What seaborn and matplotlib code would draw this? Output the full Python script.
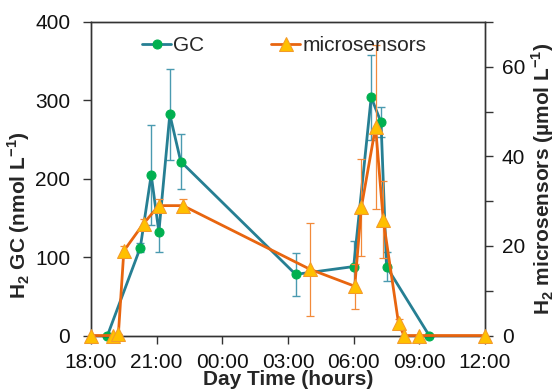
import matplotlib
matplotlib.use('Agg')
import matplotlib.pyplot as plt
import seaborn as sns
import numpy as np

# ---------------------------------------------------------------
# Data (hours counted from 18:00 of day 1; 24 = midnight)
# ---------------------------------------------------------------
gc_time = [18.75, 20.25, 20.75, 21.1, 21.6, 22.1, 27.35, 30.0, 30.8, 31.25, 31.5, 33.45]
gc_values = [0, 112, 205, 132, 282, 222, 78, 88, 304, 272, 88, 0]
gc_err = [0, 6, 64, 25, 58, 35, 27, 32, 54, 19, 18, 0]

ms_time = [18.0, 19.0, 19.25, 19.5, 20.4, 21.1, 22.2, 28.0, 30.05, 30.35, 31.0, 31.35, 32.05, 32.3, 33.0, 36.0]
ms_values = [0, 0, 0.3, 18.9, 25, 29, 29, 14.8, 11, 28.6, 46.6, 25.9, 2.7, 0, 0, 0]
ms_err = [0, 0, 0, 1, 1, 1.5, 1.5, 10.4, 5, 10.9, 18.3, 8.7, 1, 0, 0, 0]

x_ticks = [18, 21, 24, 27, 30, 33, 36]
x_ticklabels = ['18:00', '21:00', '00:00', '03:00', '06:00', '09:00', '12:00']

# ---------------------------------------------------------------
# Style
# ---------------------------------------------------------------
sns.set_style('ticks')
plt.rcParams['font.family'] = ['Liberation Sans', 'DejaVu Sans']
plt.rcParams['font.size'] = 15
plt.rcParams['mathtext.fontset'] = 'custom'
plt.rcParams['mathtext.rm'] = 'Liberation Sans'
plt.rcParams['mathtext.bf'] = 'Liberation Sans:bold'

TEAL = '#267F93'
TEAL_ERR = '#4A9AB0'
GREEN = '#00B050'
ORANGE = '#E8650F'
ORANGE_ERR = '#F28A3A'
YELLOW = '#FFC000'
SPINE = '#333333'

fig = plt.figure(figsize=(5.56, 3.9), dpi=100)
ax = fig.add_axes([0.1637, 0.1397, 0.7086, 0.8039])

# GC series (left axis)
sns.lineplot(x=gc_time, y=gc_values, ax=ax, sort=False, errorbar=None,
             color=TEAL, linewidth=2.0, marker='o', markersize=6.5,
             markerfacecolor=GREEN, markeredgecolor=GREEN, clip_on=False, zorder=3)
gc_line = ax.get_lines()[0]
ax.errorbar(gc_time, gc_values, yerr=gc_err, fmt='none', ecolor=TEAL_ERR,
            elinewidth=1.0, capsize=3, capthick=1.0, zorder=2)

ax.set_xlim(18, 36)
ax.set_ylim(0, 400)
ax.set_xticks(x_ticks)
ax.set_xticklabels(x_ticklabels)
ax.set_yticks([0, 100, 200, 300, 400])
ax.set_xlabel('Day Time (hours)', fontweight='bold')
ax.set_ylabel(r'H$_\mathbf{2}$ GC (nmol L$^\mathbf{-1}$)', fontweight='bold')
ax.xaxis.set_label_coords(0.5, -0.11)
ax.yaxis.set_label_coords(-0.15, 0.385)

# Microsensor series (right axis)
ax2 = ax.twinx()
sns.lineplot(x=ms_time, y=ms_values, ax=ax2, sort=False, errorbar=None,
             color=ORANGE, linewidth=2.0, marker='^', markersize=10,
             markerfacecolor=YELLOW, markeredgecolor='#F39A2A', clip_on=False, zorder=3)
ms_line = ax2.get_lines()[0]
ax2.errorbar(ms_time, ms_values, yerr=ms_err, fmt='none', ecolor=ORANGE_ERR,
             elinewidth=0.9, capsize=3, capthick=0.9, zorder=2)

ax2.set_ylim(0, 70)
ax2.set_yticks(np.arange(0, 71, 10))
ax2.set_yticklabels(['0', '', '20', '', '40', '', '60', ''])
ax2.set_ylabel(r'H$_\mathbf{2}$ microsensors (µmol L$^\mathbf{-1}$)', fontweight='bold',
               rotation=90)
ax2.yaxis.set_label_coords(1.113, 0.5)

for a in (ax, ax2):
    for s in a.spines.values():
        s.set_color(SPINE)
        s.set_linewidth(1.0)
    a.tick_params(direction='out', length=6, width=1.0, color=SPINE, labelcolor='#111111')
ax.tick_params(axis='x', pad=6.5)
ax.tick_params(axis='y', pad=9)
ax2.tick_params(axis='y', pad=6)

ax2.legend([gc_line, ms_line], ['GC', 'microsensors'], loc='upper center',
           bbox_to_anchor=(0.49, 1.015), ncol=2, frameon=False,
           handlelength=1.4, handletextpad=0.1, columnspacing=3.2)

fig.savefig('out.png', dpi=100, facecolor='white')
